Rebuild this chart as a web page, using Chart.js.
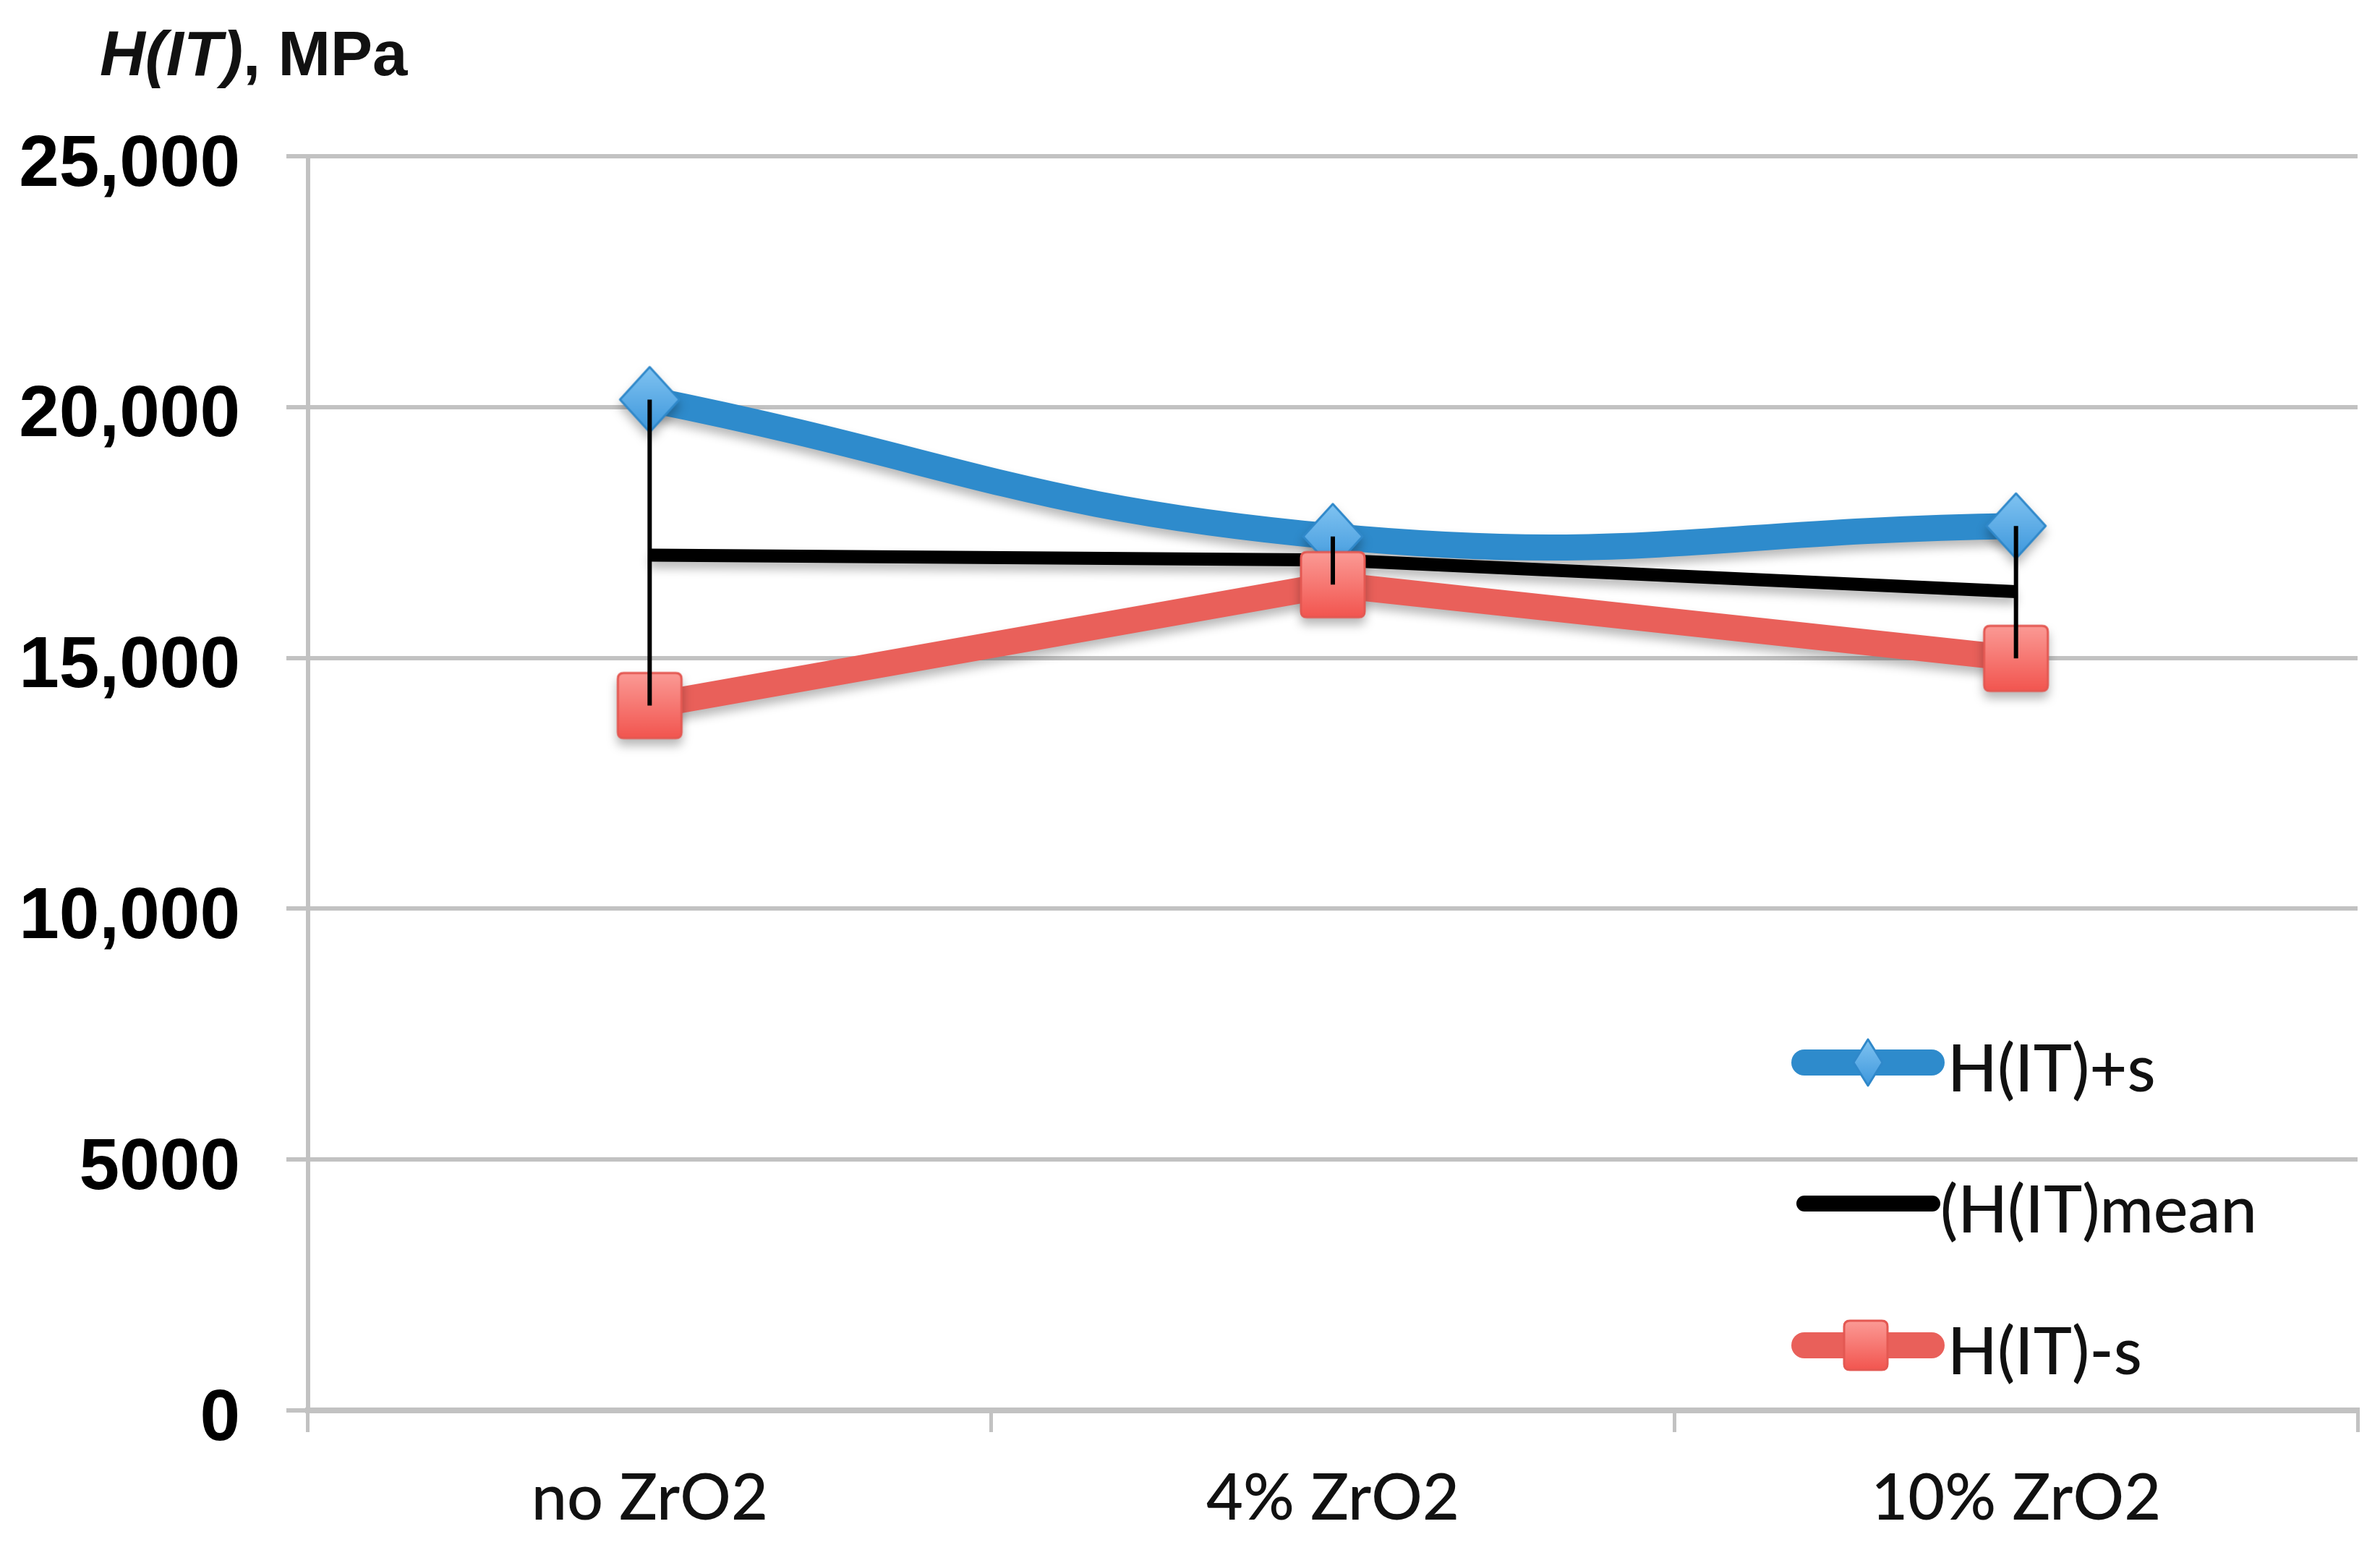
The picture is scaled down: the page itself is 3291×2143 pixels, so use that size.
<!DOCTYPE html>
<html><head><meta charset="utf-8">
<script src="https://cdn.jsdelivr.net/npm/chart.js@4.4.1/dist/chart.umd.min.js"></script>
<style>html,body{margin:0;padding:0;background:#fff;} canvas{display:block;}</style>
</head><body>
<canvas id="c" width="3291" height="2143"></canvas>
<script>
const categories = ['no ZrO2', '4% ZrO2', '10% ZrO2'];
const hPlusS = [20150, 17420, 17630];
const hMean = [17050, 16950, 16320];
const hMinusS = [14050, 16460, 14990];
const yTickValues = [0, 5000, 10000, 15000, 20000, 25000];
const yTickLabels = ['0', '5000', '10,000', '15,000', '20,000', '25,000'];
const seriesNames = ['H(IT)+s', '(H(IT)mean', 'H(IT)-s'];
const axisTitleItalic = 'H(IT)';
const axisTitleRest = ', MPa';

const BLUE = '#2e8bcc';
const RED = '#e9605a';
const GRID = '#c2c2c2';

function diamondCanvas(w, h) {
  const c = document.createElement('canvas');
  c.width = w + 6; c.height = h + 6;
  const g = c.getContext('2d');
  const cx = c.width / 2, cy = c.height / 2;
  g.beginPath();
  g.moveTo(cx, cy - h / 2); g.lineTo(cx + w / 2, cy); g.lineTo(cx, cy + h / 2); g.lineTo(cx - w / 2, cy);
  g.closePath();
  const gr = g.createLinearGradient(0, cy - h / 2, 0, cy + h / 2);
  gr.addColorStop(0, '#80c3f1'); gr.addColorStop(1, '#3d97dc');
  g.fillStyle = gr; g.fill();
  g.lineJoin = 'round'; g.lineWidth = 3; g.strokeStyle = '#2f88ca'; g.stroke();
  return c;
}
function squareCanvas(w, h, r) {
  const c = document.createElement('canvas');
  c.width = w + 6; c.height = h + 6;
  const g = c.getContext('2d');
  const x0 = 3, y0 = 3;
  g.beginPath();
  g.moveTo(x0 + r, y0); g.lineTo(x0 + w - r, y0); g.quadraticCurveTo(x0 + w, y0, x0 + w, y0 + r);
  g.lineTo(x0 + w, y0 + h - r); g.quadraticCurveTo(x0 + w, y0 + h, x0 + w - r, y0 + h);
  g.lineTo(x0 + r, y0 + h); g.quadraticCurveTo(x0, y0 + h, x0, y0 + h - r);
  g.lineTo(x0, y0 + r); g.quadraticCurveTo(x0, y0, x0 + r, y0);
  g.closePath();
  const gr = g.createLinearGradient(0, y0, 0, y0 + h);
  gr.addColorStop(0, '#fb9a95'); gr.addColorStop(1, '#f2554f');
  g.fillStyle = gr; g.fill();
  g.lineWidth = 3; g.strokeStyle = '#e45852'; g.stroke();
  return c;
}

const blueMarker = diamondCanvas(82, 90);
const redMarker = squareCanvas(88, 90, 8);
const blueLegendMarker = diamondCanvas(40, 64);
const redLegendMarker = squareCanvas(60, 68, 8);

const errorBarSets = categories.map((cat, i) => ({
  label: 'err' + i,
  data: [{ x: cat, y: hPlusS[i] }, { x: cat, y: hMinusS[i] }],
  borderColor: '#000',
  borderWidth: 6,
  pointRadius: 0,
  order: 0,
  tension: 0
}));

const shadowPlugin = {
  id: 'shadow',
  beforeDatasetDraw(chart, args) {
    const ds = chart.data.datasets[args.index];
    if (!ds.shadow) return;
    const ctx = chart.ctx;
    ctx.save();
    ctx.shadowColor = 'rgba(0,0,0,0.28)';
    ctx.shadowBlur = 14;
    ctx.shadowOffsetX = 0;
    ctx.shadowOffsetY = 9;
  },
  afterDatasetDraw(chart, args) {
    const ds = chart.data.datasets[args.index];
    if (!ds.shadow) return;
    chart.ctx.restore();
  }
};

const decorPlugin = {
  id: 'decor',
  afterDraw(chart) {
    const ctx = chart.ctx;
    ctx.save();
    ctx.fillStyle = '#111';
    ctx.textBaseline = 'alphabetic';
    ctx.textAlign = 'left';
    ctx.font = 'italic bold 87px "Liberation Sans"';
    ctx.fillText(axisTitleItalic, 138, 104);
    const w1 = ctx.measureText(axisTitleItalic).width;
    ctx.font = 'bold 87px "Liberation Sans"';
    ctx.fillText(axisTitleRest, 138 + w1, 104);

    const rows = [1469, 1664, 1860];
    ctx.lineCap = 'round';
    ctx.strokeStyle = BLUE; ctx.lineWidth = 36;
    ctx.beginPath(); ctx.moveTo(2495, rows[0]); ctx.lineTo(2671, rows[0]); ctx.stroke();
    ctx.drawImage(blueLegendMarker, 2583 - blueLegendMarker.width / 2, rows[0] - blueLegendMarker.height / 2);
    ctx.strokeStyle = '#000'; ctx.lineWidth = 22;
    ctx.beginPath(); ctx.moveTo(2495, rows[1]); ctx.lineTo(2672, rows[1]); ctx.stroke();
    ctx.strokeStyle = RED; ctx.lineWidth = 36;
    ctx.beginPath(); ctx.moveTo(2495, rows[2]); ctx.lineTo(2671, rows[2]); ctx.stroke();
    ctx.drawImage(redLegendMarker, 2580 - redLegendMarker.width / 2, rows[2] - redLegendMarker.height / 2);

    ctx.fillStyle = '#111';
    ctx.font = '500 90px Lato';
    ctx.fillText(seriesNames[0], 2693, rows[0] + 40);
    ctx.fillText(seriesNames[1], 2683, rows[1] + 40);
    ctx.fillText(seriesNames[2], 2693, rows[2] + 40);
    ctx.restore();
  }
};

new Chart(document.getElementById('c'), {
  type: 'line',
  data: {
    labels: categories,
    datasets: [
      {
        label: seriesNames[0], data: hPlusS, borderColor: BLUE, borderWidth: 36,
        tension: 0.45, pointStyle: blueMarker, pointRadius: 44, order: 3, shadow: true,
        borderCapStyle: 'butt'
      },
      {
        label: seriesNames[1], data: hMean, borderColor: '#000', borderWidth: 18,
        tension: 0, pointRadius: 0, order: 2, shadow: true
      },
      {
        label: seriesNames[2], data: hMinusS, borderColor: RED, borderWidth: 36,
        tension: 0, pointStyle: redMarker, pointRadius: 44, order: 1, shadow: true,
        borderJoinStyle: 'round'
      },
      ...errorBarSets
    ]
  },
  options: {
    responsive: false,
    devicePixelRatio: 1,
    animation: false,
    events: [],
    layout: { autoPadding: false, padding: { top: 216, right: 31, left: 0, bottom: 0 } },
    plugins: { legend: { display: false }, tooltip: { enabled: false }, title: { display: false } },
    scales: {
      x: {
        type: 'category',
        offset: true,
        grid: { offset: true, drawOnChartArea: false, drawTicks: true, tickLength: 30, color: GRID, lineWidth: 5 },
        border: { display: true, color: GRID, width: 8 },
        ticks: { font: { family: 'Lato', size: 88, weight: 500 }, color: '#111', padding: 40, maxRotation: 0 },
        afterFit(scale) { scale.height = 193; scale.paddingLeft = 0; scale.paddingRight = 0; }
      },
      y: {
        min: 0, max: 25000,
        ticks: {
          stepSize: 5000,
          font: { family: 'Liberation Sans', size: 100, weight: 'bold' },
          color: '#000',
          padding: 64,
          labelOffset: 13,
          callback(value) {
            const i = yTickValues.indexOf(value);
            return i >= 0 ? yTickLabels[i] : '';
          }
        },
        grid: { color: GRID, lineWidth: 6, tickLength: 30, drawTicks: true },
        border: { display: true, color: GRID, width: 6 },
        afterFit(scale) { scale.width = 426; scale.paddingTop = 0; scale.paddingBottom = 0; }
      }
    }
  },
  plugins: [shadowPlugin, decorPlugin]
});
</script>
</body></html>
